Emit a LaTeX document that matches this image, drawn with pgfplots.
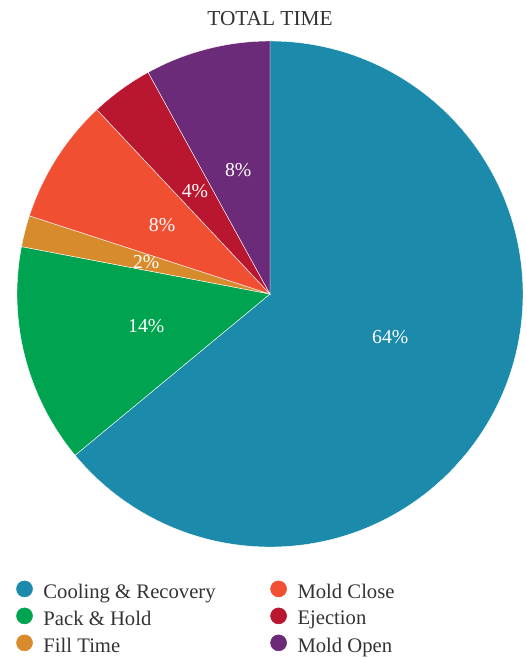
\documentclass[border=0pt]{standalone}
\usepackage{fontspec}
\setmainfont{Liberation Serif}
\usepackage{pgfplots}
\usepackage{pgfplotstable}
\pgfplotsset{compat=1.18}
\definecolor{cCool}{HTML}{1C8AAA}
\definecolor{cPack}{HTML}{00A34F}
\definecolor{cFill}{HTML}{D88B2C}
\definecolor{cClose}{HTML}{F04F32}
\definecolor{cEject}{HTML}{B9162F}
\definecolor{cOpen}{HTML}{6C2B78}
\definecolor{txt}{HTML}{333333}
\pgfplotstableread{
name value color loff
Cool 64 cCool 5.5
Pack 14 cPack 0
Fill 2 cFill 0
Close 8 cClose 0
Eject 4 cEject 0
Open 8 cOpen 0
}\piedata
\begin{document}
\begin{tikzpicture}
\path[use as bounding box] (0,0) rectangle (394.5pt,-493.5pt);
\node[anchor=base, text=txt, font=\fontsize{16}{19}\selectfont] at (202.5pt,-19.2pt) {TOTAL TIME};
\begin{axis}[
  at={(202.5pt,-220.5pt)}, anchor=center,
  scale only axis, width=379.5pt, height=379.5pt,
  hide axis, xmin=-1, xmax=1, ymin=-1, ymax=1,
  legend columns=2,
  legend cell align=left,
  legend image code/.code={\fill[#1] (6pt,0.5ex) circle (6pt);},
  legend style={at={(rel axis cs:-0.002,-0.066)}, anchor=north west, draw=none, fill=none,
    inner sep=0pt, font=\fontsize{15.5}{18}\selectfont, text=txt,
    row sep=3.6pt,
    /tikz/every odd column/.append style={column sep=6pt},
    /tikz/every even column/.append style={column sep=39pt}},
]
\addlegendimage{cCool}\addlegendentry{Cooling \& Recovery}
\addlegendimage{cClose}\addlegendentry{Mold Close}
\addlegendimage{cPack}\addlegendentry{Pack \& Hold}
\addlegendimage{cEject}\addlegendentry{Ejection}
\addlegendimage{cFill}\addlegendentry{Fill Time}
\addlegendimage{cOpen}\addlegendentry{Mold Open}
\pgfplotsextra{
  \xdef\pcum{90}
  \foreach \i in {0,...,5} {
    \pgfplotstablegetelem{\i}{value}\of\piedata \let\pv\pgfplotsretval
    \pgfplotstablegetelem{\i}{color}\of\piedata \let\pcol\pgfplotsretval
    \pgfplotstablegetelem{\i}{loff}\of\piedata \let\poff\pgfplotsretval
    \pgfmathsetmacro\pst{\pcum}
    \pgfmathsetmacro\pen{\pcum-3.6*\pv}
    \pgfmathsetmacro\pmid{(\pst+\pen)/2+\poff}
    \fill[fill=\pcol, draw=white, line width=0.3pt] (axis cs:0,0) -- ++(\pst:189.75pt) arc[start angle=\pst, end angle=\pen, radius=189.75pt] -- cycle;
    \node[text=white, font=\fontsize{14.8}{17}\selectfont] at (axis cs:{0.505*cos(\pmid)},{0.505*sin(\pmid)}) {\pv\%};
    \xdef\pcum{\pen}
  }
}
\end{axis}
\end{tikzpicture}
\end{document}
